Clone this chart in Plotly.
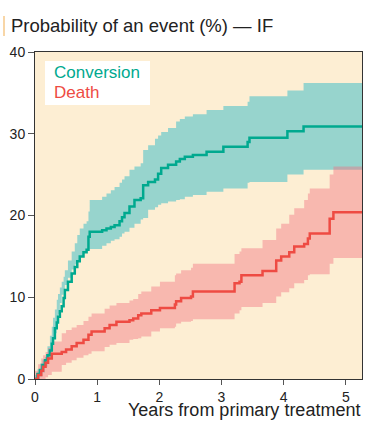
import plotly.graph_objects as go

# ---- data ----
conv_t = [0, 0.04, 0.08, 0.12, 0.16, 0.2, 0.24, 0.27, 0.29, 0.32, 0.35, 0.37, 0.40, 0.43, 0.46, 0.48,
          0.53, 0.59, 0.64, 0.68, 0.72, 0.78, 0.83, 0.86, 0.88, 1.08, 1.15, 1.22, 1.28, 1.36, 1.40,
          1.44, 1.52, 1.60, 1.70, 1.74, 1.82, 1.93, 1.98, 2.03, 2.14, 2.27, 2.33, 2.41, 2.54, 2.76,
          3.03, 3.42, 3.45, 4.06, 4.32, 5.26]
conv_est = [0, 0.6, 1.1, 1.7, 2.3, 2.9, 3.5, 4.3, 5.0, 6.2, 6.9, 7.6, 8.3, 8.9, 9.9, 10.9,
            11.9, 12.9, 13.7, 14.4, 15.0, 15.5, 15.8, 17.4, 18.0, 18.2, 18.4, 18.6, 18.8, 19.3, 19.8,
            20.3, 21.1, 21.9, 22.1, 23.7, 24.1, 24.4, 25.1, 25.8, 26.2, 26.6, 26.9, 27.2, 27.4, 27.8,
            28.4, 29.0, 29.5, 30.3, 30.9, 30.9]
conv_hi = [0.5, 1.2, 1.9, 2.3, 2.7, 4.0, 5.3, 6.4, 7.5, 8.5, 9.7, 10.4, 11.2, 11.9, 12.5, 13.3,
           14.5, 15.6, 16.6, 17.6, 18.4, 19.0, 19.3, 20.5, 21.9, 22.3, 22.7, 23.1, 23.5, 24.0, 24.4,
           24.8, 25.6, 26.0, 26.4, 28.0, 28.6, 29.4, 29.8, 30.2, 30.7, 31.5, 31.8, 32.1, 32.4, 32.9,
           33.4, 33.9, 34.6, 35.3, 36.2, 36.2]
conv_lo = [0, 0, 0.3, 0.8, 1.5, 2.4, 3.3, 4.3, 4.9, 5.6, 7.0, 7.9, 9.3, 10.3, 11.0, 11.5,
           12.4, 13.4, 14.0, 14.5, 15.0, 15.4, 15.7, 15.8, 15.9, 16.3, 16.6, 16.9, 17.1, 17.4, 17.8,
           18.0, 18.5, 19.0, 19.5, 19.7, 20.7, 21.0, 21.3, 21.5, 21.7, 21.9, 22.0, 22.3, 22.5, 22.9,
           23.3, 24.0, 24.1, 25.0, 25.6, 25.6]

death_t = [0, 0.05, 0.1, 0.13, 0.17, 0.21, 0.27, 0.43, 0.5, 0.59, 0.67, 0.78, 0.86, 0.91, 1.12,
           1.2, 1.31, 1.52, 1.58, 1.66, 1.71, 1.87, 2.01, 2.25, 2.27, 2.35, 2.51, 2.54, 3.21, 3.29,
           3.32, 3.66, 3.88, 3.96, 4.09, 4.17, 4.33, 4.39, 4.42, 4.74, 4.80, 5.26]
death_est = [0, 0.5, 1.0, 1.5, 2.0, 2.5, 3.1, 3.3, 3.6, 4.0, 4.4, 4.8, 5.4, 5.8, 6.2,
             6.6, 7.0, 7.2, 7.4, 7.8, 8.0, 8.4, 8.7, 9.1, 9.5, 9.9, 10.1, 10.7, 11.7, 11.9,
             12.7, 13.2, 14.5, 15.0, 15.5, 16.2, 16.5, 17.2, 17.8, 19.6, 20.4, 20.4]
death_hi = [1.0, 1.8, 2.5, 2.9, 3.3, 3.8, 4.6, 5.6, 6.0, 6.3, 6.6, 7.1, 7.6, 8.0, 8.6,
            9.0, 9.3, 9.6, 9.8, 10.4, 10.7, 11.3, 11.9, 12.7, 12.9, 13.3, 13.6, 14.1, 15.3, 15.6,
            16.0, 17.0, 18.4, 19.0, 20.1, 20.9, 21.9, 22.7, 23.3, 25.0, 26.0, 26.0]
death_lo = [0, 0, 0, 0, 0.2, 0.5, 0.9, 1.7, 2.0, 2.3, 2.6, 2.9, 3.1, 3.4, 3.9,
            4.2, 4.4, 4.8, 4.9, 5.0, 5.2, 5.8, 6.2, 6.4, 6.8, 7.0, 7.1, 7.3, 8.0, 8.4,
            8.8, 9.3, 10.1, 10.6, 11.1, 11.7, 12.1, 12.7, 12.8, 14.1, 14.8, 14.8]

x_ticks = [0, 1, 2, 3, 4, 5]
y_ticks = [0, 10, 20, 30, 40]

TEAL = "#00A98F"
TEAL_BAND = "#97D4CD"
RED = "#EE4B43"
RED_BAND = "rgba(240,110,126,0.42)"
FONT = "Liberation Sans, Arial, sans-serif"

fig = go.Figure()
fig.add_trace(go.Scatter(x=conv_t, y=conv_lo, mode="lines", line=dict(width=0, shape="hv"),
                         showlegend=False, hoverinfo="skip"))
fig.add_trace(go.Scatter(x=conv_t, y=conv_hi, mode="lines", line=dict(width=0, shape="hv"),
                         fill="tonexty", fillcolor=TEAL_BAND, showlegend=False, hoverinfo="skip"))
fig.add_trace(go.Scatter(x=death_t, y=death_lo, mode="lines", line=dict(width=0, shape="hv"),
                         showlegend=False, hoverinfo="skip"))
fig.add_trace(go.Scatter(x=death_t, y=death_hi, mode="lines", line=dict(width=0, shape="hv"),
                         fill="tonexty", fillcolor=RED_BAND, showlegend=False, hoverinfo="skip"))
fig.add_trace(go.Scatter(x=conv_t, y=conv_est, mode="lines", line=dict(color=TEAL, width=2.5, shape="hv"),
                         name="Conversion", showlegend=False))
fig.add_trace(go.Scatter(x=death_t, y=death_est, mode="lines", line=dict(color=RED, width=2.5, shape="hv"),
                         name="Death", showlegend=False))

L, R, T, B = 35, 3, 52, 43
W, H = 365, 422
pw, ph = W - L - R, H - T - B

def px_x(p):
    return (p - L) / pw

def px_y(p):
    return (H - B - p) / ph

fig.update_layout(
    width=W, height=H,
    margin=dict(l=L, r=R, t=T, b=B, autoexpand=False),
    paper_bgcolor="white",
    plot_bgcolor="#FDEED3",
    font=dict(family=FONT, color="#333333", size=14),
    showlegend=False,
    xaxis=dict(range=[0, 5.26], tickvals=x_ticks, ticktext=[str(v) for v in x_ticks],
               showgrid=False, zeroline=False, showline=True, linecolor="#333333", linewidth=1,
               mirror=True, ticks="outside", ticklen=5, tickcolor="#555555", automargin=False,
               tickfont=dict(size=14, color="#222222")),
    yaxis=dict(range=[0, 40], tickvals=y_ticks, ticktext=[str(v) for v in y_ticks],
               showgrid=False, zeroline=False, showline=True, linecolor="#333333", linewidth=1,
               mirror=True, ticks="outside", ticklen=6, tickcolor="#555555", automargin=False,
               tickfont=dict(size=14, color="#222222")),
    shapes=[
        dict(type="rect", xref="paper", yref="paper", x0=px_x(45), x1=px_x(150),
             y0=px_y(105), y1=px_y(61), fillcolor="white", line=dict(width=0), layer="above"),
        dict(type="line", xref="paper", yref="paper", x0=px_x(4), x1=px_x(4),
             y0=px_y(36), y1=px_y(16), line=dict(color="#F6C98A", width=1.5)),
    ],
    annotations=[
        dict(text="Probability of an event (%) — IF", xref="paper", yref="paper",
             x=px_x(9), y=px_y(26), xanchor="left", yanchor="middle", showarrow=False,
             font=dict(size=18.5, color="#222222", family=FONT)),
        dict(text="Years from primary treatment", xref="paper", yref="paper",
             x=1.0, y=px_y(410), xanchor="right", yanchor="middle", showarrow=False,
             font=dict(size=18, color="#222222", family=FONT)),
        dict(text="Conversion", xref="paper", yref="paper", x=px_x(52), y=px_y(73),
             xanchor="left", yanchor="middle", showarrow=False,
             font=dict(size=17, color=TEAL, family=FONT)),
        dict(text="Death", xref="paper", yref="paper", x=px_x(52), y=px_y(92),
             xanchor="left", yanchor="middle", showarrow=False,
             font=dict(size=17, color=RED, family=FONT)),
    ],
)

fig.write_html("out.html", config={"displayModeBar": False},
               post_script="document.body.style.margin='0';document.body.style.overflow='hidden';")
